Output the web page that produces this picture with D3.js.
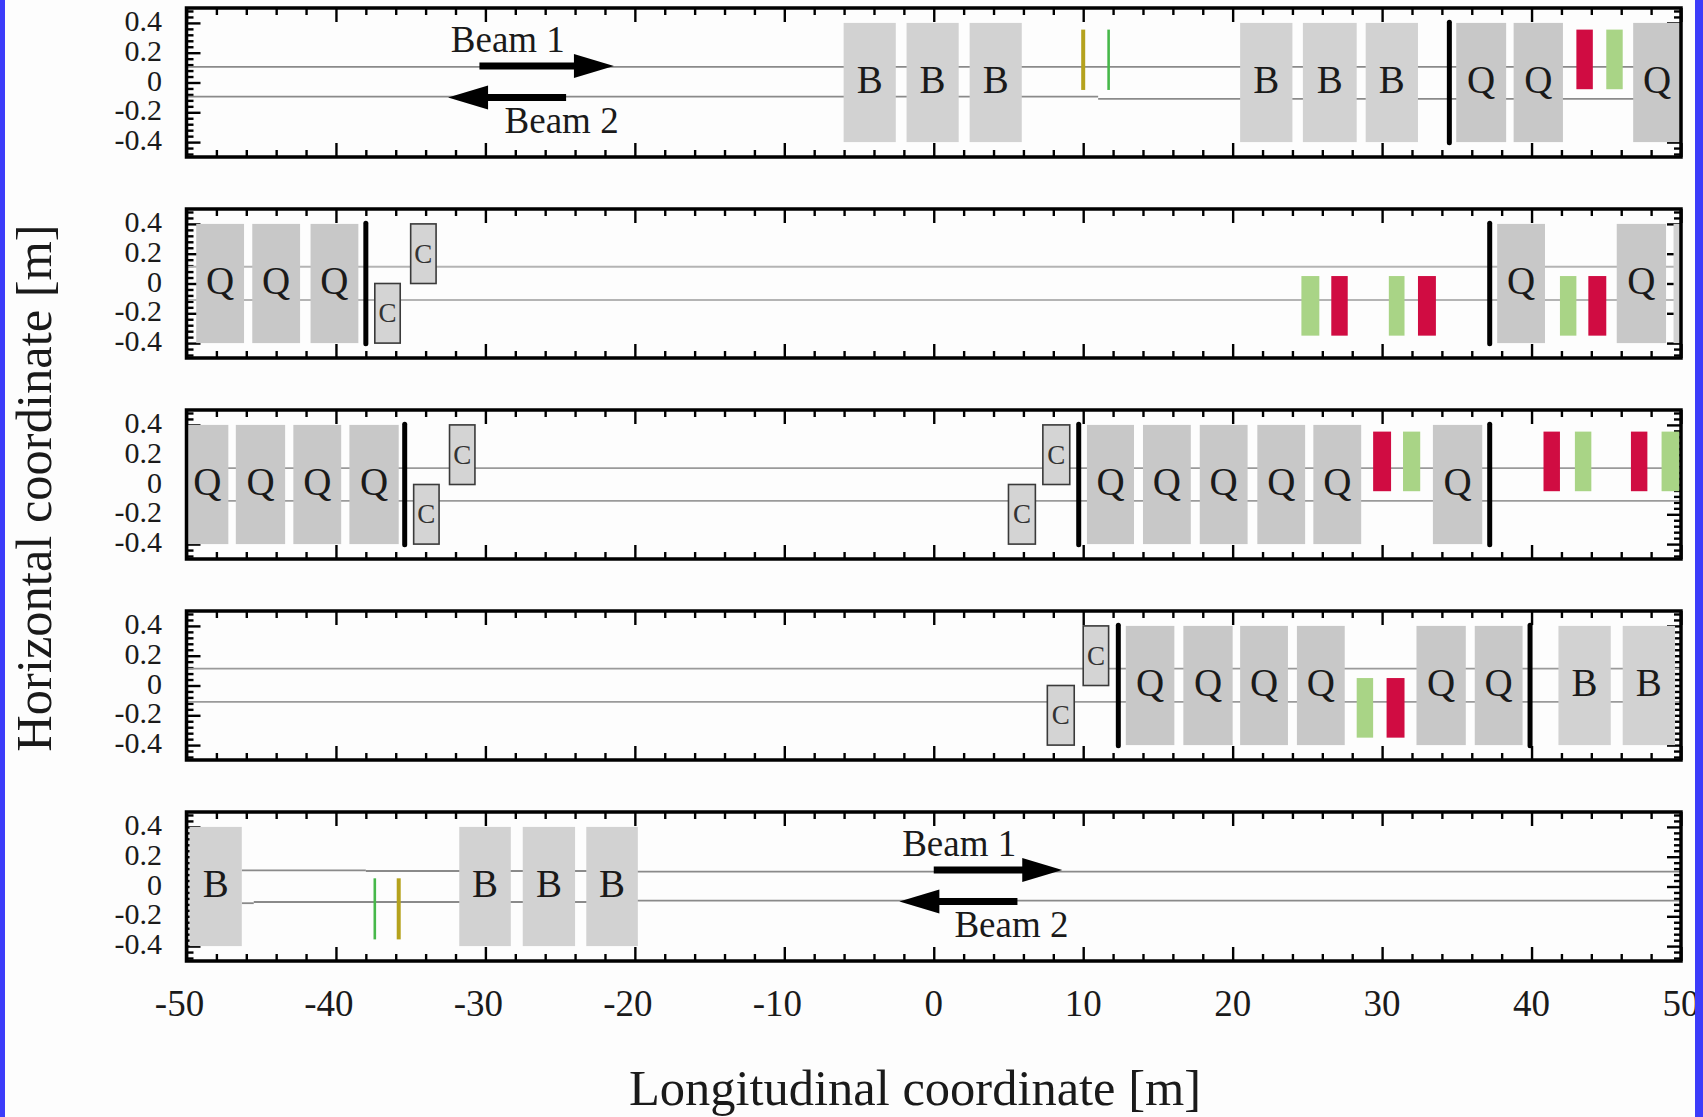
<!DOCTYPE html>
<html>
<head>
<meta charset="utf-8">
<script src="https://cdn.jsdelivr.net/npm/d3@7"></script>
<style>
html, body { margin: 0; padding: 0; background: #fdfdfd; overflow: hidden; }
text { font-family: "Liberation Serif", serif; fill: #1a1a1a; }
</style>
</head>
<body>
<script>
// each element list: [type, start (m), end (m)], one list per panel
var panel1 = [["B",-6.03,-2.54],["B",-1.82,1.67],["B",2.4,5.89],["B",20.5,24],["B",24.7,28.3],["B",28.9,32.4],
    ["Q",34.96,38.3],["Q",38.8,42.1],["Q",46.8,50],["R",43,44.1],["G",45,46.1]];
var panel2 = [["Q",-49.35,-46.15],["Q",-45.6,-42.4],["Q",-41.7,-38.5],["Q",37.7,40.9],["Q",45.7,49],["S",49.5,50],
    ["G",24.6,25.8],["R",26.6,27.7],["G",30.45,31.5],["R",32.4,33.6],["G",41.9,43],["R",43.8,45]];
var panel3 = [["Q",-50,-47.2],["Q",-46.7,-43.4],["Q",-42.85,-39.65],["Q",-39.1,-35.8],
    ["Q",10.25,13.4],["Q",14,17.2],["Q",17.8,21],["Q",21.65,24.85],["Q",25.4,28.6],["Q",33.4,36.7],
    ["R",29.4,30.6],["G",31.4,32.55],["R",40.8,41.9],["G",42.9,44],["R",46.65,47.75],["G",48.7,49.9]];
var panel4 = [["Q",12.85,16.1],["Q",16.7,20],["Q",20.5,23.7],["Q",24.3,27.5],["Q",32.3,35.6],["Q",36.2,39.4],
    ["B",41.8,45.3],["B",46.1,49.6],["G",28.3,29.4],["R",30.3,31.5]];
var panel5 = [["B",-49.8,-46.3],["B",-31.75,-28.3],["B",-27.5,-24],["B",-23.25,-19.8]];

// collimators: [start, end, side] side 1 = upper aperture, -1 = lower
var coll2 = [[-37.4,-35.7,-1],[-35,-33.3,1]];
var coll3 = [[-34.8,-33.1,-1],[-32.4,-30.7,1],[5,6.8,-1],[7.3,9.1,1]];
var coll4 = [[7.6,9.4,-1],[10,11.7,1]];

// thick black separators
var seps = [[34.5],[-38,37.2],[-35.4,9.7,37.2],[12.35,39.9],[]];
// thin kickers: [position, colour key]
var thin1 = [[10,"Y"],[11.7,"T"]];
var thin5 = [[-37.4,"T"],[-35.8,"Y"]];

// beam pipe pieces: [from, to, y]
var beams1 = [[-50,50,0.105],[-50,11,-0.095],[11,50,-0.11]];
var beams2 = [[-50,50,0.113],[-50,50,-0.11]];
var beams3 = [[-50,50,0.11],[-50,50,-0.11]];
var beams4 = [[-50,50,0.113],[-50,50,-0.11]];
var beams5 = [[-46.3,-38,0.108],[-38,-20,0.104],[-20,50,0.1],[-46.3,-45.5,-0.112],[-45.5,-20,-0.104],[-20,50,-0.095]];

// arrows: [from, to, y]
var arrows1 = [[-30.4,-21.4,0.11],[-24.6,-32.5,-0.1]];
var arrows5 = [[0,8.6,0.11],[5.6,-2.3,-0.1]];
// labels: [text, centre, baseline]
var labels1 = [["Beam 1",-28.5,0.205],["Beam 2",-24.9,-0.34]];
var labels5 = [["Beam 1",1.7,0.205],["Beam 2",5.2,-0.34]];

var yLabels = [0.4,0.2,0,-0.2,-0.4];
var xLabels = [-50,-40,-30,-20,-10,0,10,20,30,40,50];

var panels = [
    {els:panel1, coll:[], sep:seps[0], thin:thin1, beams:beams1, arrows:arrows1, labels:labels1, beamColor:"#8a8a8a", beamWidth:1.6},
    {els:panel2, coll:coll2, sep:seps[1], thin:[], beams:beams2, arrows:[], labels:[], beamColor:"#b4b4b4", beamWidth:2},
    {els:panel3, coll:coll3, sep:seps[2], thin:[], beams:beams3, arrows:[], labels:[], beamColor:"#9a9a9a", beamWidth:1.8},
    {els:panel4, coll:coll4, sep:seps[3], thin:[], beams:beams4, arrows:[], labels:[], beamColor:"#9a9a9a", beamWidth:1.8},
    {els:panel5, coll:[], sep:seps[4], thin:thin5, beams:beams5, arrows:arrows5, labels:labels5, beamColor:"#8a8a8a", beamWidth:1.8}
];

var colors = {B:"#d2d2d2", Q:"#c8c8c8", S:"#d2d2d2", R:"#d00c42", G:"#a9d486", Y:"#b5a21d", T:"#47b84a"};

var width = 1703, height = 1117;
var panelHeight = 149, panelStep = 201, panelTop = 8;

var svg = d3.select("body").append("svg")
    .attr("width", width)
    .attr("height", height);

svg.append("rect").attr("width", width).attr("height", height).attr("fill", "#fdfdfd");

var x = d3.scaleLinear().domain([-50, 50]).range([186.5, 1681]);
var y = d3.scaleLinear().domain([-0.5, 0.5]).range([panelHeight, 0]);

var xMajor = d3.range(-50, 51, 10),
    xMinor = d3.range(-50, 51, 2).filter(function(d){ return d % 10 != 0; }),
    yMajor = d3.range(-4, 5, 2).map(function(d){ return d / 10; }),
    yMinor = d3.range(-48, 49, 4).filter(function(d){ return d % 20 != 0; })
        .map(function(d){ return d / 100; });

function drawTicks(g, axisFn, scale, values, size, pos){
    var a = g.append("g")
        .attr("transform", pos)
        .call(axisFn(scale).tickValues(values).tickSize(size).tickFormat(""));
    a.select(".domain").remove();
    a.selectAll("line").attr("stroke", "#000").attr("stroke-width", 2.4);
}

panels.forEach(function(p, i){
    var g = svg.append("g")
        .attr("transform", "translate(0," + (panelTop + i * panelStep) + ")");

    // ticks point inward on all four sides
    drawTicks(g, d3.axisBottom, x, xMajor, 14, "translate(0,0)");
    drawTicks(g, d3.axisBottom, x, xMinor, 7, "translate(0,0)");
    drawTicks(g, d3.axisTop, x, xMajor, 14, "translate(0," + panelHeight + ")");
    drawTicks(g, d3.axisTop, x, xMinor, 7, "translate(0," + panelHeight + ")");
    drawTicks(g, d3.axisRight, y, yMajor, 14, "translate(" + x(-50) + ",0)");
    drawTicks(g, d3.axisRight, y, yMinor, 7, "translate(" + x(-50) + ",0)");
    drawTicks(g, d3.axisLeft, y, yMajor, 14, "translate(" + x(50) + ",0)");
    drawTicks(g, d3.axisLeft, y, yMinor, 7, "translate(" + x(50) + ",0)");

    // y tick labels
    g.selectAll(".ylab").data(yLabels).enter().append("text")
        .attr("class", "ylab")
        .attr("x", 162)
        .attr("y", function(d){ return y(d) + 8; })
        .attr("text-anchor", "end")
        .style("font-size", "30px")
        .text(function(d){ return d; });

    // beam pipes
    g.selectAll(".beam").data(p.beams).enter().append("line")
        .attr("class", "beam")
        .attr("x1", function(d){ return x(d[0]); })
        .attr("x2", function(d){ return x(d[1]); })
        .attr("y1", function(d){ return y(d[2]); })
        .attr("y2", function(d){ return y(d[2]); })
        .attr("stroke", p.beamColor)
        .attr("stroke-width", p.beamWidth);

    // dipoles, quadrupoles and correctors
    var mags = p.els.filter(function(d){ return d[0] == "B" || d[0] == "Q" || d[0] == "S"; });
    g.selectAll(".mag").data(mags).enter().append("rect")
        .attr("class", "mag")
        .attr("x", function(d){ return x(d[1]); })
        .attr("width", function(d){ return x(d[2]) - x(d[1]); })
        .attr("y", y(0.4))
        .attr("height", y(-0.4) - y(0.4))
        .attr("fill", function(d){ return colors[d[0]]; });

    g.selectAll(".maglab").data(mags.filter(function(d){ return d[0] != "S"; })).enter().append("text")
        .attr("class", "maglab")
        .attr("x", function(d){ return (x(d[1]) + x(d[2])) / 2; })
        .attr("y", y(0) + 10)
        .attr("text-anchor", "middle")
        .style("font-size", "39px")
        .text(function(d){ return d[0]; });

    var corr = p.els.filter(function(d){ return d[0] == "R" || d[0] == "G"; });
    g.selectAll(".corr").data(corr).enter().append("rect")
        .attr("class", "corr")
        .attr("x", function(d){ return x(d[1]); })
        .attr("width", function(d){ return x(d[2]) - x(d[1]); })
        .attr("y", i == 0 || i == 2 ? y(0.355) : y(0.05))
        .attr("height", y(0) - y(0.4) + 0)
        .attr("fill", function(d){ return colors[d[0]]; });

    // collimators
    var colls = g.selectAll(".coll").data(p.coll).enter().append("g").attr("class", "coll");
    colls.append("rect")
        .attr("x", function(d){ return x(d[0]); })
        .attr("width", function(d){ return x(d[1]) - x(d[0]); })
        .attr("y", function(d){ return d[2] > 0 ? y(0.4) : y(0); })
        .attr("height", y(0) - y(0.4))
        .attr("fill", "#d4d4d4")
        .attr("stroke", "#3a3a3a")
        .attr("stroke-width", 1.6);
    colls.append("text")
        .attr("x", function(d){ return (x(d[0]) + x(d[1])) / 2; })
        .attr("y", function(d){ return y(d[2] > 0 ? 0.2 : -0.2) + 9; })
        .attr("text-anchor", "middle")
        .style("font-size", "27px")
        .style("fill", "#333")
        .text("C");

    // thin kickers
    g.selectAll(".thin").data(p.thin).enter().append("line")
        .attr("class", "thin")
        .attr("x1", function(d){ return x(d[0]); })
        .attr("x2", function(d){ return x(d[0]); })
        .attr("y1", i == 0 ? y(0.355) : y(0.055))
        .attr("y2", i == 0 ? y(-0.05) : y(-0.355))
        .attr("stroke", function(d){ return colors[d[1]]; })
        .attr("stroke-width", function(d){ return d[1] == "Y" ? 4 : 2.6; });

    // black separators
    g.selectAll(".sep").data(p.sep).enter().append("line")
        .attr("class", "sep")
        .attr("x1", function(d){ return x(d); })
        .attr("x2", function(d){ return x(d); })
        .attr("y1", y(0.405))
        .attr("y2", y(-0.405))
        .attr("stroke", "#000")
        .attr("stroke-width", 5)
        .attr("stroke-linecap", "round");

    // beam direction arrows
    var arrow = g.selectAll(".arrow").data(p.arrows).enter().append("g").attr("class", "arrow");
    arrow.append("line")
        .attr("x1", function(d){ return x(d[0]); })
        .attr("x2", function(d){ return x(d[1]) - (d[1] > d[0] ? 30 : -30); })
        .attr("y1", function(d){ return y(d[2]); })
        .attr("y2", function(d){ return y(d[2]); })
        .attr("stroke", "#000")
        .attr("stroke-width", 7);
    arrow.append("path")
        .attr("d", function(d){
            var tip = x(d[1]), dir = d[1] > d[0] ? 1 : -1, yy = y(d[2]);
            return "M" + tip + "," + yy + "L" + (tip - dir * 40) + "," + (yy - 12) + "L" + (tip - dir * 40) + "," + (yy + 12) + "Z";
        })
        .attr("fill", "#000");

    g.selectAll(".blabel").data(p.labels).enter().append("text")
        .attr("class", "blabel")
        .attr("x", function(d){ return x(d[1]); })
        .attr("y", function(d){ return y(d[2]); })
        .attr("text-anchor", "middle")
        .style("font-size", "37px")
        .text(function(d){ return d[0]; });

    // frame
    g.append("rect")
        .attr("x", x(-50))
        .attr("y", 0)
        .attr("width", x(50) - x(-50))
        .attr("height", panelHeight)
        .attr("fill", "none")
        .attr("stroke", "#000")
        .attr("stroke-width", 3.5);
});

// x tick labels under the last panel
svg.selectAll(".xlab").data(xLabels).enter().append("text")
    .attr("class", "xlab")
    .attr("x", function(d){ return x(d) + (d < 0 ? -7 : 0); })
    .attr("y", 1016)
    .attr("text-anchor", "middle")
    .style("font-size", "37px")
    .text(function(d){ return d; });

svg.append("text")
    .attr("x", 915)
    .attr("y", 1105)
    .attr("text-anchor", "middle")
    .style("font-size", "50.5px")
    .text("Longitudinal coordinate [m]");

svg.append("text")
    .attr("transform", "translate(51,488) rotate(-90)")
    .attr("text-anchor", "middle")
    .style("font-size", "50.5px")
    .text("Horizontal coordinate [m]");

// blue strips at the image edges
svg.append("rect").attr("x", 0).attr("y", 0).attr("width", 5).attr("height", height).attr("fill", "#3c3cfa");
svg.append("rect").attr("x", 1695).attr("y", 0).attr("width", 8).attr("height", height).attr("fill", "#3c3cfa");
</script>
</body>
</html>
